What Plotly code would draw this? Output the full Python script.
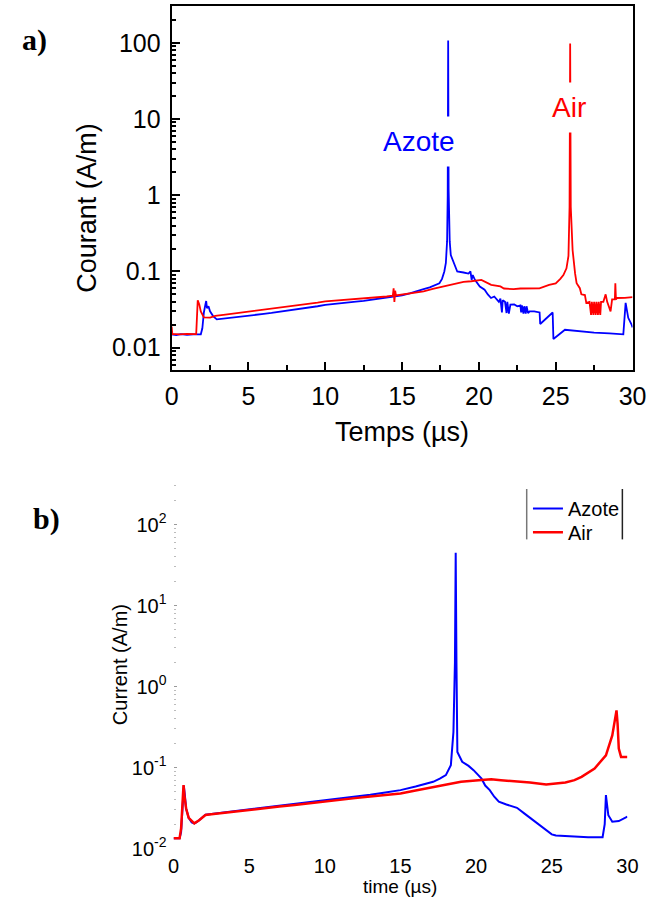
import plotly.graph_objects as go

# ---------------- Panel a) data (measured) ----------------
a_azote_t = [0.0, 0.3, 0.6, 1.0, 1.4, 1.9, 2.0, 2.1, 2.2, 2.25, 2.3, 2.4, 2.5, 2.7, 2.94, 3.3, 3.6, 4.0,
             4.5, 5.0, 5.5, 6.0, 6.5, 7.0, 7.5, 8.0, 8.5, 9.0, 9.5, 10.0, 10.5, 11.0, 11.5, 12.0, 12.5,
             13.0, 13.5, 14.0, 14.5, 15.0, 15.5, 16.0, 16.4, 16.8, 17.2, 17.43, 17.6, 17.75, 17.85,
             17.93, 17.97, 18.0, 18.03, 18.1, 18.17, 18.38, 18.59, 19.0, 19.32, 19.45, 19.5, 19.53,
             19.6, 19.74, 20.06, 20.37, 20.58, 20.79, 21.0, 21.2, 21.3, 21.4, 21.5, 21.55, 21.7, 21.8,
             21.85, 21.95, 22.05, 22.3, 22.5, 22.7, 22.75, 22.8, 22.9, 22.95, 23.05, 23.1, 23.2, 23.3,
             23.6, 23.95, 23.99, 24.8, 24.85, 25.6, 26.5, 27.5, 28.5, 29.4, 29.55, 29.72, 29.93, 30.0]
a_azote_i = [0.0150, 0.0147, 0.0151, 0.0148, 0.0150, 0.0150, 0.018, 0.029, 0.037, 0.041, 0.033, 0.035,
             0.030, 0.026, 0.0236, 0.0240, 0.0246, 0.0250, 0.0258, 0.0264, 0.0270, 0.0278, 0.0286,
             0.0295, 0.0305, 0.0315, 0.0326, 0.0336, 0.0350, 0.0365, 0.0372, 0.0382, 0.0392, 0.0402,
             0.0412, 0.0425, 0.0440, 0.0452, 0.0466, 0.0488, 0.0515, 0.0548, 0.0586, 0.0620, 0.0660,
             0.0700, 0.0800, 0.100, 0.130, 0.25, 1.0, 107.0, 1.2, 0.25, 0.164, 0.127, 0.100, 0.097,
             0.094, 0.100, 0.085, 0.0776, 0.090, 0.0776, 0.0636, 0.0576, 0.0500, 0.0449, 0.0470,
             0.0430, 0.0400, 0.0440, 0.0290, 0.0420, 0.0400, 0.0285, 0.0400, 0.0280, 0.0368, 0.0370,
             0.0350, 0.0360, 0.0290, 0.0360, 0.0280, 0.0350, 0.0280, 0.0350, 0.0285, 0.0300, 0.0300,
             0.0290, 0.0205, 0.0290, 0.0130, 0.0172, 0.0165, 0.0158, 0.0154, 0.0150, 0.0387, 0.0247,
             0.0203, 0.0185]

a_air_t = [0.0, 0.05, 0.1, 0.5, 1.0, 1.6, 1.7, 1.8, 1.9, 2.0, 2.1, 2.5, 2.84, 3.5, 4.0, 4.5, 5.0, 5.5,
           6.0, 6.5, 7.0, 7.5, 8.0, 8.5, 9.0, 9.5, 10.0, 10.5, 11.0, 11.5, 12.0, 12.5, 13.0, 13.5,
           14.0, 14.4, 14.45, 14.5, 14.55, 14.6, 15.0, 15.5, 16.0, 16.4, 17.0, 17.5, 18.0, 18.5,
           19.0, 19.5, 20.0, 20.16, 20.8, 21.4, 21.63, 22.26, 22.7, 23.5, 23.94, 24.57, 25.0,
           25.3, 25.5, 25.7, 25.83, 25.9, 25.94, 25.98, 26.1, 26.26, 26.36, 26.57, 26.67, 26.9,
           26.99, 27.2, 27.3, 27.35, 27.45, 27.5, 27.6, 27.65, 27.75, 27.8, 27.9, 27.95, 28.1,
           28.25, 28.35, 28.57, 28.67, 28.85, 28.88, 28.92, 28.98, 29.5, 30.0]
a_air_i = [0.0190, 0.0148, 0.0152, 0.0150, 0.0152, 0.0151, 0.042, 0.037, 0.030, 0.027, 0.0250,
           0.0248, 0.0262, 0.0272, 0.0280, 0.0288, 0.0295, 0.0303, 0.0312, 0.0321, 0.0330, 0.0340,
           0.0350, 0.0362, 0.0375, 0.0390, 0.0405, 0.0412, 0.0425, 0.0432, 0.0440, 0.0447, 0.0455,
           0.0462, 0.0470, 0.0482, 0.0600, 0.0400, 0.0560, 0.0485, 0.0500, 0.0518, 0.0535, 0.0547,
           0.0590, 0.0620, 0.0660, 0.0700, 0.0730, 0.0745, 0.0760, 0.0776, 0.0668, 0.0636, 0.0598,
           0.0586, 0.0598, 0.0598, 0.0600, 0.0668, 0.0700, 0.0800, 0.0897, 0.110, 0.160, 0.7, 98.0,
           0.7, 0.19, 0.0944, 0.0702, 0.0604, 0.0502, 0.049, 0.0387, 0.040, 0.027, 0.040, 0.027,
           0.040, 0.027, 0.040, 0.027, 0.040, 0.027, 0.040, 0.040, 0.0502, 0.040, 0.0300, 0.043,
           0.043, 0.0702, 0.043, 0.0449, 0.0452, 0.0460]

# ---------------- Panel b) data (simulation) ----------------
b_azote_t = [0.0, 0.4, 0.5, 0.58, 0.64, 0.68, 0.75, 0.83, 1.0, 1.2, 1.37, 1.5, 1.69, 1.9, 2.11, 2.5,
             3.0, 4.0, 5.0, 6.0, 7.0, 8.0, 9.0, 10.0, 11.0, 12.0, 13.0, 14.0, 15.0, 16.0, 17.16, 17.6,
             18.0, 18.33, 18.5, 18.6, 18.65, 18.7, 18.76, 19.08, 19.5, 19.83, 20.1, 20.36, 20.6, 20.9,
             21.2, 21.5, 22.0, 22.7, 23.2, 23.77, 24.3, 24.73, 25.0, 25.27, 26.0, 27.4, 28.36, 28.5,
             28.58, 28.66, 28.74, 29.0, 29.43, 30.0]
b_azote_i = [0.0134, 0.0134, 0.016, 0.035, 0.058, 0.060, 0.045, 0.0313, 0.024, 0.021, 0.0205, 0.021,
             0.0224, 0.0245, 0.0262, 0.0268, 0.0275, 0.0290, 0.0305, 0.0322, 0.0338, 0.0355, 0.0372,
             0.0392, 0.0412, 0.0435, 0.0462, 0.0492, 0.0527, 0.0585, 0.0668, 0.0730, 0.0807, 0.107,
             0.275, 2.0, 45.0, 2.0, 0.156, 0.118, 0.105, 0.093, 0.083, 0.073, 0.060, 0.0527, 0.0437,
             0.038, 0.035, 0.0319, 0.027, 0.0225, 0.0190, 0.0162, 0.0150, 0.0145, 0.0142, 0.0138,
             0.0138, 0.020, 0.0457, 0.035, 0.0258, 0.0215, 0.0219, 0.0248]

b_air_t = [0.0, 0.4, 0.5, 0.58, 0.66, 0.72, 0.83, 1.0, 1.37, 1.69, 2.11, 2.5, 3.0, 4.0, 5.0, 6.0, 7.0,
           8.0, 9.0, 10.0, 11.0, 12.0, 13.0, 14.0, 15.0, 16.0, 17.16, 18.0, 19.0, 20.36, 21.0, 21.64,
           22.5, 23.56, 24.63, 25.9, 26.5, 26.97, 27.83, 28.58, 29.0, 29.15, 29.28, 29.35, 29.43,
           29.58, 30.0]
b_air_i = [0.0134, 0.0134, 0.0178, 0.040, 0.0608, 0.045, 0.0313, 0.024, 0.0205, 0.0224, 0.026,
           0.0265, 0.0272, 0.0287, 0.0300, 0.0315, 0.0330, 0.0346, 0.0364, 0.0386, 0.0400, 0.0420,
           0.0440, 0.0460, 0.048, 0.052, 0.0578, 0.062, 0.067, 0.0702, 0.072, 0.070, 0.068, 0.0654,
           0.0617, 0.0654, 0.070, 0.0768, 0.0973, 0.142, 0.25, 0.38, 0.509, 0.35, 0.172, 0.1355,
           0.1355]

x_ticks = [0, 5, 10, 15, 20, 25, 30]
a_y_ticks = [0.01, 0.1, 1, 10, 100]
a_y_labels = ["0.01", "0.1", "1", "10", "100"]
b_y_ticks = [0.01, 0.1, 1, 10, 100]
b_y_labels = ["10<sup>-2</sup>", "10<sup>-1</sup>", "10<sup>0</sup>", "10<sup>1</sup>", "10<sup>2</sup>"]
b_top_ticks = [5, 15, 25]

BLUE = "#0000FF"
RED = "#FF0000"
SANS = "Liberation Sans, Arial, sans-serif"
SERIF = "Liberation Serif, Times New Roman, serif"

W, H = 663, 909
def px(x):
    return x / W
def py(y):
    return 1 - y / H

minor_log = [k * 10 ** e for e in range(-3, 3) for k in range(2, 10)]

fig = go.Figure()
fig.add_trace(go.Scatter(x=a_azote_t, y=a_azote_i, mode="lines", line=dict(color=BLUE, width=1.8),
                         xaxis="x", yaxis="y", showlegend=False))
fig.add_trace(go.Scatter(x=a_air_t, y=a_air_i, mode="lines", line=dict(color=RED, width=1.8),
                         xaxis="x", yaxis="y", showlegend=False))
fig.add_trace(go.Scatter(x=b_azote_t, y=b_azote_i, mode="lines", line=dict(color=BLUE, width=2),
                         xaxis="x2", yaxis="y2", name="Azote", legend="legend"))
fig.add_trace(go.Scatter(x=b_air_t, y=b_air_i, mode="lines", line=dict(color=RED, width=2.5),
                         xaxis="x2", yaxis="y2", name="Air", legend="legend2"))

legend_common = dict(xanchor="left", yanchor="top", font=dict(size=20, family=SANS),
                     bgcolor="rgba(0,0,0,0)", borderwidth=0)

fig.update_layout(
    width=W, height=H,
    margin=dict(l=0, r=0, t=0, b=0),
    paper_bgcolor="white", plot_bgcolor="rgba(0,0,0,0)",
    font=dict(family=SANS, color="black"),
    xaxis=dict(domain=[px(170), px(646)], range=[0, 30], anchor="y",
               tickvals=x_ticks, ticks="inside", ticklen=8, tickwidth=2, tickcolor="black",
               minor=dict(tickvals=[2.5, 7.5, 12.5, 17.5, 22.5, 27.5], ticks="inside", ticklen=5,
                          tickwidth=2, tickcolor="black"),
               showline=True, linewidth=2, linecolor="black", mirror=True,
               showgrid=False, zeroline=False, tickfont=dict(size=25), ticklabelstandoff=3),
    yaxis=dict(domain=[py(375), py(6)], type="log", range=[-2.298, 2.483], anchor="x",
               tickvals=a_y_ticks, ticktext=a_y_labels, ticks="inside", ticklen=8, tickwidth=2,
               tickcolor="black",
               minor=dict(tickvals=minor_log, ticks="inside", ticklen=4, tickwidth=1.5,
                          tickcolor="black"),
               showline=True, linewidth=2, linecolor="black", mirror=True,
               showgrid=False, zeroline=False, tickfont=dict(size=25), ticklabelstandoff=4),
    xaxis2=dict(domain=[px(172), px(640.7)], range=[0, 30], anchor="y2",
                tickvals=x_ticks, ticks="", showline=False, showgrid=False, zeroline=False,
                tickfont=dict(size=20), ticklabelstandoff=3),
    xaxis3=dict(overlaying="x2", anchor="y2", side="top", range=[0, 30], tickvals=b_top_ticks,
                ticks="inside", ticklen=4, tickwidth=1, tickcolor="#888", showticklabels=False,
                showline=False, showgrid=False, zeroline=False),
    xaxis4=dict(overlaying="x2", anchor="y2", side="bottom", range=[0, 30], tickvals=b_top_ticks,
                ticks="inside", ticklen=4, tickwidth=1, tickcolor="#888", showticklabels=False,
                showline=False, showgrid=False, zeroline=False),
    yaxis2=dict(domain=[py(859), py(490)], type="log", range=[-2, 2.5], anchor="x2",
                tickvals=b_y_ticks, ticktext=b_y_labels, ticks="inside", ticklen=3, tickwidth=1,
                tickcolor="#999",
                minor=dict(tickvals=minor_log, ticks="inside", ticklen=2, tickwidth=1,
                           tickcolor="#bbb"),
                showline=False, showgrid=False, zeroline=False, tickfont=dict(size=20),
                ticklabelstandoff=6),
    yaxis3=dict(overlaying="y2", anchor="x2", side="right", type="log", range=[-2, 2.5],
                tickvals=b_y_ticks, ticks="inside", ticklen=4, tickwidth=1, tickcolor="#555",
                minor=dict(tickvals=minor_log, ticks="inside", ticklen=3, tickwidth=1,
                           tickcolor="#555"),
                showticklabels=False, showline=True, linewidth=1.5, linecolor="#999",
                showgrid=False, zeroline=False),
    legend=dict(x=px(538), y=py(495), **legend_common),
    legend2=dict(x=px(538), y=py(519), **legend_common),
    showlegend=True,
)

annotations = [
    dict(text="Temps (µs)", x=px(408), y=py(437), font=dict(size=27)),
    dict(text="Courant (A/m)", x=px(82.5), y=py(210.5), textangle=-90, font=dict(size=27)),
    dict(text="Azote", x=px(425.7), y=py(143), font=dict(size=28, color=BLUE),
         bgcolor="white", borderpad=9),
    dict(text="Air", x=px(580.7), y=py(108.5), font=dict(size=28, color=RED),
         bgcolor="white", borderpad=9),
    dict(text="<b>a)</b>", x=px(28), y=py(40), font=dict(size=30, family=SERIF)),
    dict(text="<b>b)</b>", x=px(41), y=py(525), font=dict(size=30, family=SERIF)),
    dict(text="time (µs)", x=px(406), y=py(897), font=dict(size=19)),
    dict(text="Current (A/m)", x=px(117), y=py(673), textangle=-90, font=dict(size=20)),
]
for a in annotations:
    a.update(xref="paper", yref="paper", showarrow=False, xanchor="center", yanchor="middle")
fig.update_layout(annotations=annotations)

fig.update_layout(shapes=[
    dict(type="line", xref="paper", yref="paper", x0=px(536.7), x1=px(536.7), y0=py(495), y1=py(546),
         line=dict(color="#777", width=1.5)),
    dict(type="line", xref="paper", yref="paper", x0=px(635.5), x1=px(635.5), y0=py(495), y1=py(546),
         line=dict(color="#222", width=1.5)),
])

fig.write_html("out.html")
